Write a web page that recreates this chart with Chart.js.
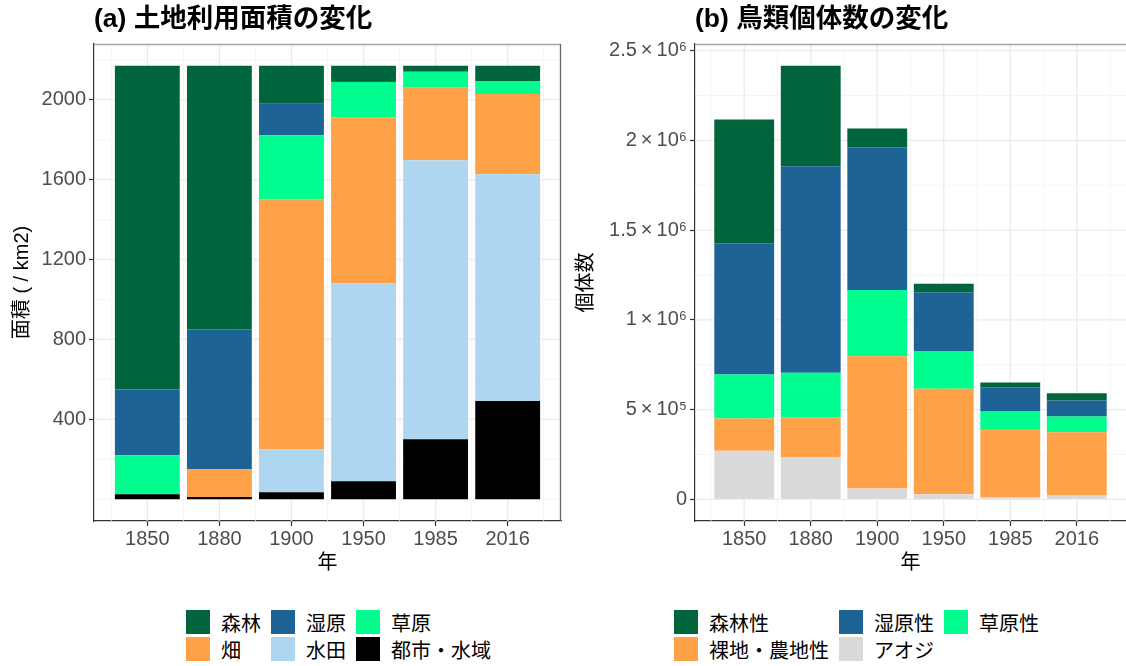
<!DOCTYPE html>
<html><head><meta charset="utf-8">
<script src="https://cdn.jsdelivr.net/npm/chart.js@4.4.1/dist/chart.umd.min.js"></script>
<style>
html,body{margin:0;padding:0;background:#fff;}
body{width:1126px;height:666px;overflow:hidden;position:relative;}
#c1{position:absolute;left:0;top:0;}
#c2{position:absolute;left:563px;top:0;}
.legend{position:absolute;top:610px;display:grid;grid-template-columns:auto auto auto;column-gap:10px;row-gap:3px;font-family:'Noto Sans CJK JP','Liberation Sans',sans-serif;font-size:20px;color:#000;}
.item{display:flex;align-items:center;height:24px;white-space:nowrap;}
.sw{width:24px;height:24px;margin-right:11px;flex:none;}
</style></head>
<body>
<canvas id="c1" width="563" height="600"></canvas>
<canvas id="c2" width="563" height="600"></canvas>
<div id="leg1" class="legend" style="left:186px"></div>
<div id="leg2" class="legend" style="left:674px"></div>
<script>
// ---- categories ----
const years = ['1850', '1880', '1900', '1950', '1985', '2016'];

// ---- (a) land use area (km2), stacked bottom -> top ----
const landUrban   = [25, 12, 35, 90, 300, 492];
const landPaddy   = [0, 0, 216, 991, 1397, 1135];
const landField   = [0, 138, 1250, 831, 363, 401];
const landGrass   = [196, 0, 321, 176, 80, 65];
const landWetland = [328, 701, 157, 5, 0, 0];
const landForest  = [1621, 1319, 191, 77, 30, 77];
const landTicks   = [400, 800, 1200, 1600, 2000];
const landMinor   = [0, 200, 600, 1000, 1400, 1800, 2200];

// ---- (b) bird abundance, stacked bottom -> top ----
const birdAojiTotal = [271000, 233000, 60000, 28000, 13000, 21000];
const birdOpen      = [179000, 224000, 737000, 588000, 379000, 352000];
const birdGrass     = [246000, 248000, 369000, 210000, 97000, 88000];
const birdWetland   = [731000, 1150000, 795000, 327000, 136000, 89000];
const birdForest    = [689000, 561000, 105000, 48000, 26000, 41000];
const birdTicks     = [0, 500000, 1000000, 1500000, 2000000, 2500000];
const birdTickLabels = ['0', '5\u2009×\u200910⁵', '1\u2009×\u200910⁶', '1.5\u2009×\u200910⁶', '2\u2009×\u200910⁶', '2.5\u2009×\u200910⁶'];
const birdMinor     = [250000, 750000, 1250000, 1750000, 2250000];

// ---- colours ----
const C = {
  forest: '#00643C', wetland: '#1E6396', grass: '#00FD8F',
  field: '#FFA147', paddy: '#AFD6F0', urban: '#000000', aoji: '#DADADA'
};

const latin = "'Liberation Sans', 'Noto Sans CJK JP', sans-serif";
const cjk = "'Liberation Sans', 'Noto Sans CJK JP', sans-serif";

function pts(arr) { return arr.map((v, i) => ({ x: i, y: v })); }
function ds(label, arr, color) {
  return { label, data: pts(arr), backgroundColor: color, borderWidth: 0,
           categoryPercentage: 1, barPercentage: 0.9 };
}
function stackMax(list) {
  return Math.max(...years.map((_, i) => list.reduce((s, a) => s + a[i], 0)));
}

function ggPlugin(majorY, minorY, drawRight) {
  return {
    id: 'ggGrid',
    beforeDatasetsDraw(chart) {
      const { ctx, chartArea: a, scales: { x, y } } = chart;
      ctx.save();
      ctx.beginPath(); ctx.rect(a.left, a.top, a.width, a.height); ctx.clip();
      const hl = (p) => { ctx.beginPath(); ctx.moveTo(a.left, p); ctx.lineTo(a.right, p); ctx.stroke(); };
      const vl = (p) => { ctx.beginPath(); ctx.moveTo(p, a.top); ctx.lineTo(p, a.bottom); ctx.stroke(); };
      ctx.strokeStyle = '#F3F3F3'; ctx.lineWidth = 0.8;
      minorY.forEach(v => hl(y.getPixelForValue(v)));
      for (let i = 0; i <= years.length; i++) vl(x.getPixelForValue(i - 0.5));
      ctx.strokeStyle = '#EBEBEB'; ctx.lineWidth = 1.3;
      majorY.forEach(v => hl(y.getPixelForValue(v)));
      years.forEach((_, i) => vl(x.getPixelForValue(i)));
      ctx.restore();
    },
    afterDraw(chart) {
      const { ctx, chartArea: a } = chart;
      ctx.save();
      ctx.strokeStyle = '#A6A6A6'; ctx.lineWidth = 1.5;
      ctx.beginPath(); ctx.moveTo(a.left, a.top + 0.5); ctx.lineTo(a.right, a.top + 0.5); ctx.stroke();
      if (drawRight) {
        ctx.strokeStyle = '#666'; ctx.lineWidth = 1.3;
        ctx.beginPath(); ctx.moveTo(a.right - 0.5, a.top); ctx.lineTo(a.right - 0.5, a.bottom); ctx.stroke();
      }
      ctx.restore();
    }
  };
}

function makeChart(id, datasets, cfg) {
  const maxV = stackMax(cfg.stacks);
  const pad = maxV * 0.05;
  return new Chart(document.getElementById(id), {
    type: 'bar',
    data: { datasets },
    plugins: [ggPlugin(cfg.majorY, cfg.minorY, cfg.drawRight)],
    options: {
      responsive: false, animation: false,
      layout: { padding: { left: 0, right: cfg.padRight, top: 0, bottom: 0 } },
      plugins: {
        legend: { display: false }, tooltip: { enabled: false },
        title: {
          display: true, text: cfg.title, align: 'start', fullSize: false,
          color: '#000', font: { family: cjk, size: 26.5, weight: 'bold', lineHeight: 1.2 },
          padding: { top: 4, bottom: 8.2 }
        }
      },
      scales: {
        x: {
          type: 'linear', stacked: true, offset: false,
          min: -0.74, max: years.length - 1 + 0.74,
          afterBuildTicks: s => { s.ticks = years.map((_, i) => ({ value: i })); },
          afterFit: s => { s.height = 79; },
          ticks: { callback: v => years[v], color: '#4D4D4D', padding: 1, maxRotation: 0,
                   font: { family: latin, size: 20 } },
          grid: { offset: false, drawOnChartArea: false, drawTicks: true, tickLength: 5, tickColor: '#333', tickWidth: 1.2 },
          border: { display: true, color: '#333', width: 1.2 },
          title: { display: true, text: '年', color: '#000', padding: { top: 0, bottom: 25 },
                   font: { family: cjk, size: 20, lineHeight: 1.2 } }
        },
        y: {
          stacked: true, min: -pad, max: maxV + pad,
          afterBuildTicks: s => { s.ticks = cfg.majorY.map(v => ({ value: v })); },
          afterFit: s => { s.width = cfg.yWidth; },
          ticks: { callback: cfg.yLabel, color: '#4D4D4D', padding: 3,
                   font: { family: latin, size: 20 } },
          grid: { drawOnChartArea: false, drawTicks: true, tickLength: 5, tickColor: '#333', tickWidth: 1.2 },
          border: { display: true, color: '#333', width: 1.2 },
          title: { display: true, text: cfg.yTitle, color: '#000', padding: { top: cfg.yTitlePad, bottom: 0 },
                   font: { family: cjk, size: 20, lineHeight: 1.2 } }
        }
      }
    }
  });
}

const landSets = [
  ds('都市・水域', landUrban, C.urban),
  ds('水田', landPaddy, C.paddy),
  ds('畑', landField, C.field),
  ds('草原', landGrass, C.grass),
  ds('湿原', landWetland, C.wetland),
  ds('森林', landForest, C.forest)
];
const birdSets = [
  ds('アオジ', birdAojiTotal, C.aoji),
  ds('裸地・農地性', birdOpen, C.field),
  ds('草原性', birdGrass, C.grass),
  ds('湿原性', birdWetland, C.wetland),
  ds('森林性', birdForest, C.forest)
];

const chart1 = makeChart('c1', landSets, {
  stacks: [landUrban, landPaddy, landField, landGrass, landWetland, landForest],
  majorY: landTicks, minorY: landMinor, drawRight: true, padRight: 2,
  title: '(a) 土地利用面積の変化', yTitle: '面積 ( / km2)', yTitlePad: 10, yWidth: 94,
  yLabel: v => String(v)
});
const chart2 = makeChart('c2', birdSets, {
  stacks: [birdAojiTotal, birdOpen, birdGrass, birdWetland, birdForest],
  majorY: birdTicks, minorY: birdMinor, drawRight: false, padRight: 0,
  title: '(b) 鳥類個体数の変化', yTitle: '個体数', yTitlePad: 11, yWidth: 132,
  yLabel: v => birdTickLabels[birdTicks.indexOf(v)]
});

// ---- legends (order as in the reference, 3 columns) ----
function buildLegend(elId, chart, order) {
  const el = document.getElementById(elId);
  order.forEach(name => {
    const d = chart.data.datasets.find(s => s.label === name);
    const it = document.createElement('div'); it.className = 'item';
    const sw = document.createElement('span'); sw.className = 'sw'; sw.style.background = d.backgroundColor;
    const tx = document.createElement('span'); tx.textContent = d.label;
    it.appendChild(sw); it.appendChild(tx); el.appendChild(it);
  });
}
buildLegend('leg1', chart1, ['森林', '湿原', '草原', '畑', '水田', '都市・水域']);
buildLegend('leg2', chart2, ['森林性', '湿原性', '草原性', '裸地・農地性', 'アオジ']);
</script>
</body></html>
